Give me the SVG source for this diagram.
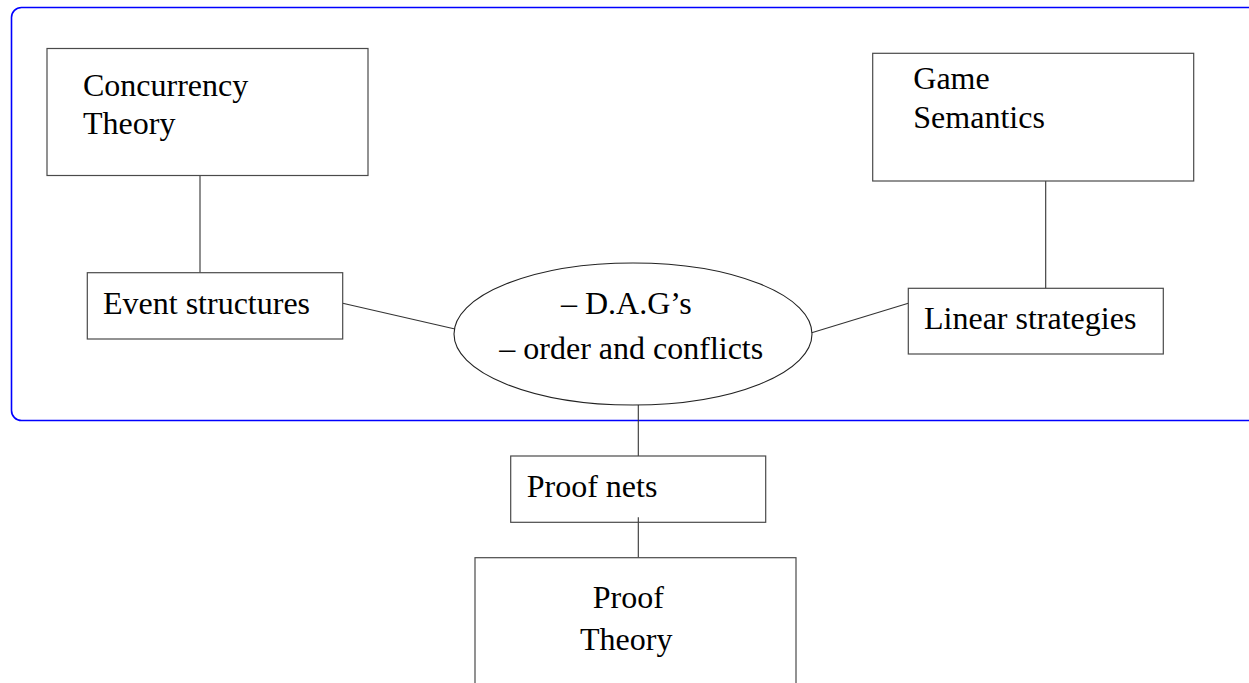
<svg xmlns="http://www.w3.org/2000/svg" width="1249" height="683" viewBox="0 0 1249 683">
<style>
  .box { fill: #fff; stroke: #4a4a4a; stroke-width: 1.2; }
  .lbl { font-family: "Liberation Serif", "Times New Roman", serif; font-size: 32px; fill: #000; }
  .conn line { stroke: #333; stroke-width: 1.1; }
  .frame { fill: none; stroke: #0000ff; stroke-width: 1.6; }
</style>
<rect id="frame" class="frame" x="11.5" y="7.5" width="1260" height="413" rx="10" ry="10"/>
<g id="connectors" class="conn">
  <line x1="200" y1="175.5" x2="200" y2="272.7"/>
  <line x1="1045.7" y1="181" x2="1045.7" y2="288.3"/>
  <line x1="342.7" y1="303.3" x2="455" y2="329"/>
  <line x1="811.7" y1="332.7" x2="908.3" y2="303.3"/>
  <line x1="638.3" y1="405" x2="638.3" y2="456"/>
  <line x1="638.3" y1="517.3" x2="638.3" y2="557.7"/>
</g>
<g id="concurrency">
  <rect class="box" x="47" y="48.5" width="321" height="127"/>
  <text class="lbl" x="83" y="95.5">Concurrency</text>
  <text class="lbl" x="83" y="133.5">Theory</text>
</g>
<g id="game">
  <rect class="box" x="872.7" y="53.3" width="321" height="127.7"/>
  <text class="lbl" x="913.3" y="89.3">Game</text>
  <text class="lbl" x="913.3" y="128.3">Semantics</text>
</g>
<g id="event">
  <rect class="box" x="87.3" y="272.7" width="255.4" height="66.3"/>
  <text class="lbl" x="103" y="314">Event structures</text>
</g>
<g id="linear">
  <rect class="box" x="908.3" y="288.3" width="255" height="65.7"/>
  <text class="lbl" x="924" y="329.3">Linear strategies</text>
</g>
<g id="dag">
  <ellipse cx="633" cy="334" rx="179" ry="71" fill="#fff" stroke="#222" stroke-width="1.1"/>
  <text class="lbl" x="561" y="314">– D.A.G’s</text>
  <text class="lbl" x="499.3" y="359.3">– order and conflicts</text>
</g>
<g id="proofnets">
  <rect class="box" x="510.7" y="456" width="255" height="66.3"/>
  <text class="lbl" x="526.7" y="496.7">Proof nets</text>
</g>
<g id="prooftheory">
  <rect class="box" x="475" y="557.7" width="321" height="140"/>
  <text class="lbl" x="592.7" y="608.3">Proof</text>
  <text class="lbl" x="580" y="650">Theory</text>
</g>
<line x1="638.3" y1="517.3" x2="638.3" y2="522.3" stroke="#333" stroke-width="1.1"/>
</svg>
